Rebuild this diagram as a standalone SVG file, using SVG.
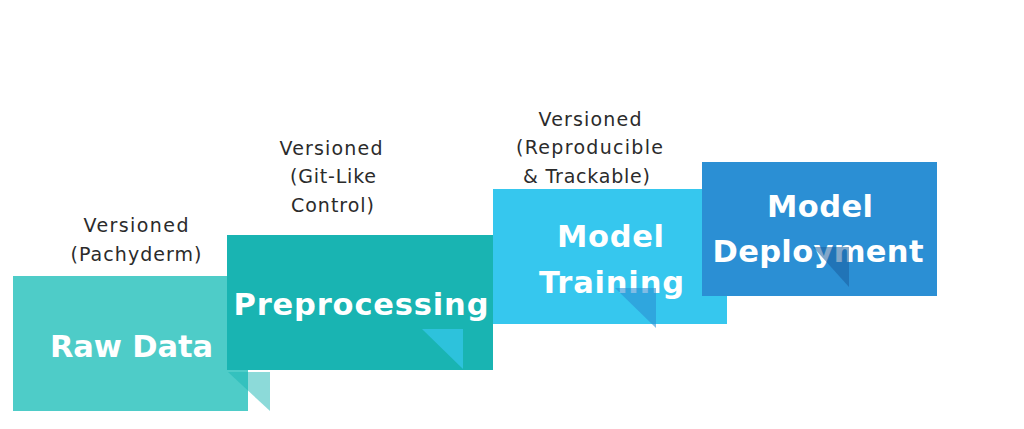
<svg xmlns="http://www.w3.org/2000/svg" width="1024" height="429" viewBox="0 0 1024 429">
<style>
.title{font-family:"DejaVu Sans","Liberation Sans",sans-serif;font-weight:700;font-size:30.5px;fill:#ffffff;text-anchor:middle}
.note{font-family:"DejaVu Sans","Liberation Sans",sans-serif;font-weight:400;font-size:19px;fill:#2b2b2b;text-anchor:middle}
</style>
<rect width="1024" height="429" fill="#ffffff"/>
<g id="connectors"></g>
<g id="raw-data">
<text class="note" x="136" y="232" textLength="105" lengthAdjust="spacing">Versioned</text>
<text class="note" x="136" y="261" textLength="131" lengthAdjust="spacing">(Pachyderm)</text>
<rect x="13" y="276" width="235" height="135" fill="#4ECCC8"/>
<text class="title" x="131.5" y="357" textLength="163" lengthAdjust="spacing">Raw Data</text>
<polygon points="228,372 270,372 270,411" fill="#1AB5B3" fill-opacity="0.5"/>
</g>
<g id="preprocessing">
<text class="note" x="331" y="155" textLength="103" lengthAdjust="spacing">Versioned</text>
<text class="note" x="333" y="183" textLength="86" lengthAdjust="spacing">(Git-Like</text>
<text class="note" x="332.5" y="212" textLength="83" lengthAdjust="spacing">Control)</text>
<rect x="227" y="235" width="266" height="135" fill="#19B4B2"/>
<text class="title" x="361" y="315" textLength="255" lengthAdjust="spacing">Preprocessing</text>
<polygon points="422,329 463,329 463,369" fill="#36C8EE" fill-opacity="0.7"/>
</g>
<g id="model-training">
<text class="note" x="590" y="126" textLength="103" lengthAdjust="spacing">Versioned</text>
<text class="note" x="589.5" y="154" textLength="147" lengthAdjust="spacing">(Reproducible</text>
<text class="note" x="586.5" y="183" textLength="127" lengthAdjust="spacing">&amp; Trackable)</text>
<rect x="493" y="189" width="234" height="135" fill="#36C7EE"/>
<text class="title" x="610.5" y="247" textLength="107" lengthAdjust="spacing">Model</text>
<text class="title" x="611.5" y="293" textLength="145" lengthAdjust="spacing">Training</text>
<polygon points="615,288 656,288 656,328" fill="#2B8FD3" fill-opacity="0.6"/>
</g>
<g id="model-deployment">
<rect x="702" y="162" width="235" height="134" fill="#2B8FD4"/>
<text class="title" x="820" y="217" textLength="106" lengthAdjust="spacing">Model</text>
<text class="title" x="818" y="262" textLength="211" lengthAdjust="spacing">Deployment</text>
<polygon points="813,247 849,247 849,287" fill="#1A5F9E" fill-opacity="0.55"/>
</g>
</svg>
